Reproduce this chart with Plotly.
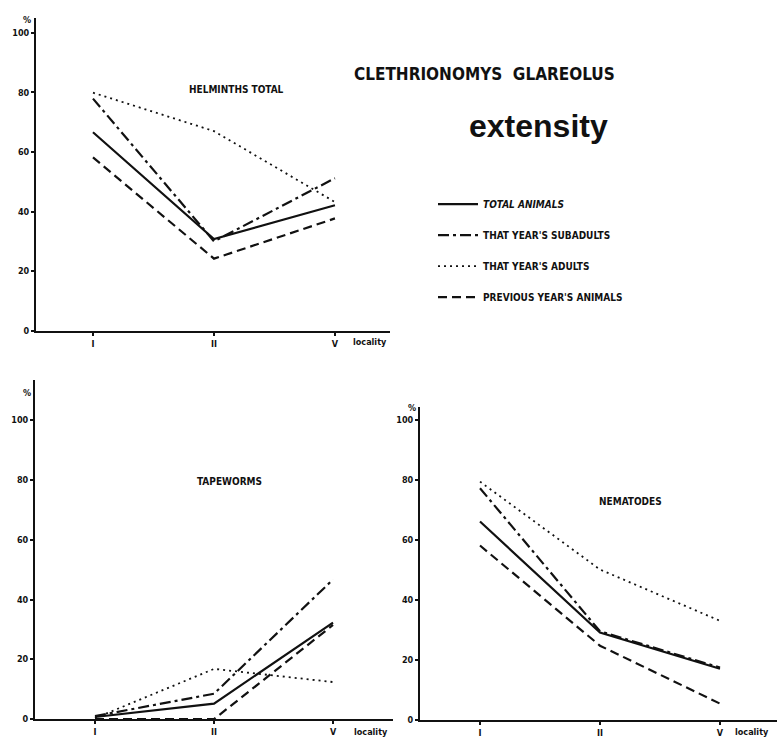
import plotly.graph_objects as go

# Localities on the x axis (plotted at positions 1, 2, 3)
localities = ["I", "II", "V"]
loc_pos = [1, 2, 3]

# Series names
series_names = [
    "<i>TOTAL ANIMALS</i>",
    "THAT YEAR'S SUBADULTS",
    "THAT YEAR'S ADULTS",
    "PREVIOUS YEAR'S ANIMALS",
]

# Extensity (%) – helminths total
helm_total = [66.6, 30.8, 42.1]
helm_subadults = [77.9, 30.0, 51.2]
helm_adults = [79.9, 67.0, 43.2]
helm_previous = [58.2, 24.2, 37.7]

# Extensity (%) – tapeworms
tape_total = [0.7, 5.2, 32.3]
tape_subadults = [1.0, 8.5, 46.7]
tape_adults = [0.3, 16.8, 12.4]
tape_previous = [0.0, 0.0, 31.5]

# Extensity (%) – nematodes
nema_total = [66.2, 29.2, 17.1]
nema_subadults = [77.3, 29.6, 17.5]
nema_adults = [79.5, 50.2, 33.1]
nema_previous = [58.2, 24.8, 5.5]

y_ticks = [0, 20, 40, 60, 80, 100]

W, H = 778, 742
INK = "#111111"
NARROW = "Liberation Sans Narrow, DejaVu Sans Condensed, Arial Narrow, sans-serif"


def px_x(p):
    return p / W


def px_y(p):
    return 1 - p / H


line_styles = [
    dict(dash="solid", width=2.2),
    dict(dash="11px,4px,3px,4px", width=2.2),
    dict(dash="2px,4px", width=1.8),
    dict(dash="9px,5px", width=2.2),
]

panels = [
    ("x", "y", [helm_total, helm_subadults, helm_adults, helm_previous], True),
    ("x2", "y2", [tape_total, tape_subadults, tape_adults, tape_previous], False),
    ("x3", "y3", [nema_total, nema_subadults, nema_adults, nema_previous], False),
]

fig = go.Figure()
for xa, ya, series, show in panels:
    for i, (vals, name) in enumerate(zip(series, series_names)):
        fig.add_trace(go.Scatter(
            x=loc_pos, y=vals, mode="lines", name=name,
            line=dict(color=INK, **line_styles[i]),
            xaxis=xa, yaxis=ya, showlegend=show,
            legendgroup=f"g{i}", hoverinfo="skip",
        ))

tick_font = dict(family=NARROW, size=9, color=INK, weight="bold")

axis_common = dict(
    showline=True, linecolor=INK, linewidth=2,
    showgrid=False, zeroline=False, ticks="outside",
    tickcolor=INK, ticklen=3, tickwidth=1.5, tickfont=tick_font,
)

x_axes = {
    "xaxis": dict(domain=[px_x(36), px_x(390)], range=[0.529, 3.455], anchor="y"),
    "xaxis2": dict(domain=[px_x(35), px_x(393)], range=[0.496, 3.504], anchor="y2"),
    "xaxis3": dict(domain=[px_x(420), px_x(777)], range=[0.5, 3.475], anchor="y3"),
}
y_axes = {
    "yaxis": dict(domain=[px_y(333), px_y(18)], range=[0, 105], anchor="x"),
    "yaxis2": dict(domain=[px_y(724), px_y(383)], range=[0, 113.3], anchor="x2"),
    "yaxis3": dict(domain=[px_y(725), px_y(410)], range=[0, 104.3], anchor="x3"),
}
for k, v in x_axes.items():
    fig.update_layout({k: dict(**axis_common, **v, tickvals=loc_pos, ticktext=localities)})
for k, v in y_axes.items():
    fig.update_layout({k: dict(**axis_common, **v, tickvals=y_ticks)})

annotations = []


def label(text, x, y, size, xanchor="center", family=NARROW, weight="bold", style="normal"):
    annotations.append(dict(
        text=text, x=px_x(x), y=px_y(y), xref="paper", yref="paper",
        xanchor=xanchor, yanchor="middle", showarrow=False,
        font=dict(family=family, size=size, color=INK, weight=weight, style=style),
    ))


# Headings
label("CLETHRIONOMYS  GLAREOLUS", 352, 75, 17, xanchor="left")
label("extensity", 538, 127, 32, family="Liberation Sans, Arial, sans-serif")
label("HELMINTHS TOTAL", 236, 90, 10)
label("TAPEWORMS", 230, 485, 10)
label("NEMATODES", 630, 505, 10)

# Unit marks above the y axes
label("%", 27, 20, 9)
label("%", 27, 396, 9)
label("%", 412, 411, 9)

# Axis titles after the last locality
label("locality", 370, 344, 9)
label("locality", 371, 737, 9)
label("locality", 752, 737, 9)

fig.update_layout(
    width=W, height=H,
    margin=dict(l=0, r=0, t=0, b=0),
    paper_bgcolor="white", plot_bgcolor="white",
    annotations=annotations,
    showlegend=True,
    legend=dict(
        x=px_x(433), y=px_y(191), xanchor="left", yanchor="top",
        bgcolor="rgba(0,0,0,0)", itemwidth=40, tracegroupgap=12,
        traceorder="grouped",
        font=dict(family=NARROW, size=10, color=INK, weight="bold"),
    ),
)

fig.write_html("out.html")
